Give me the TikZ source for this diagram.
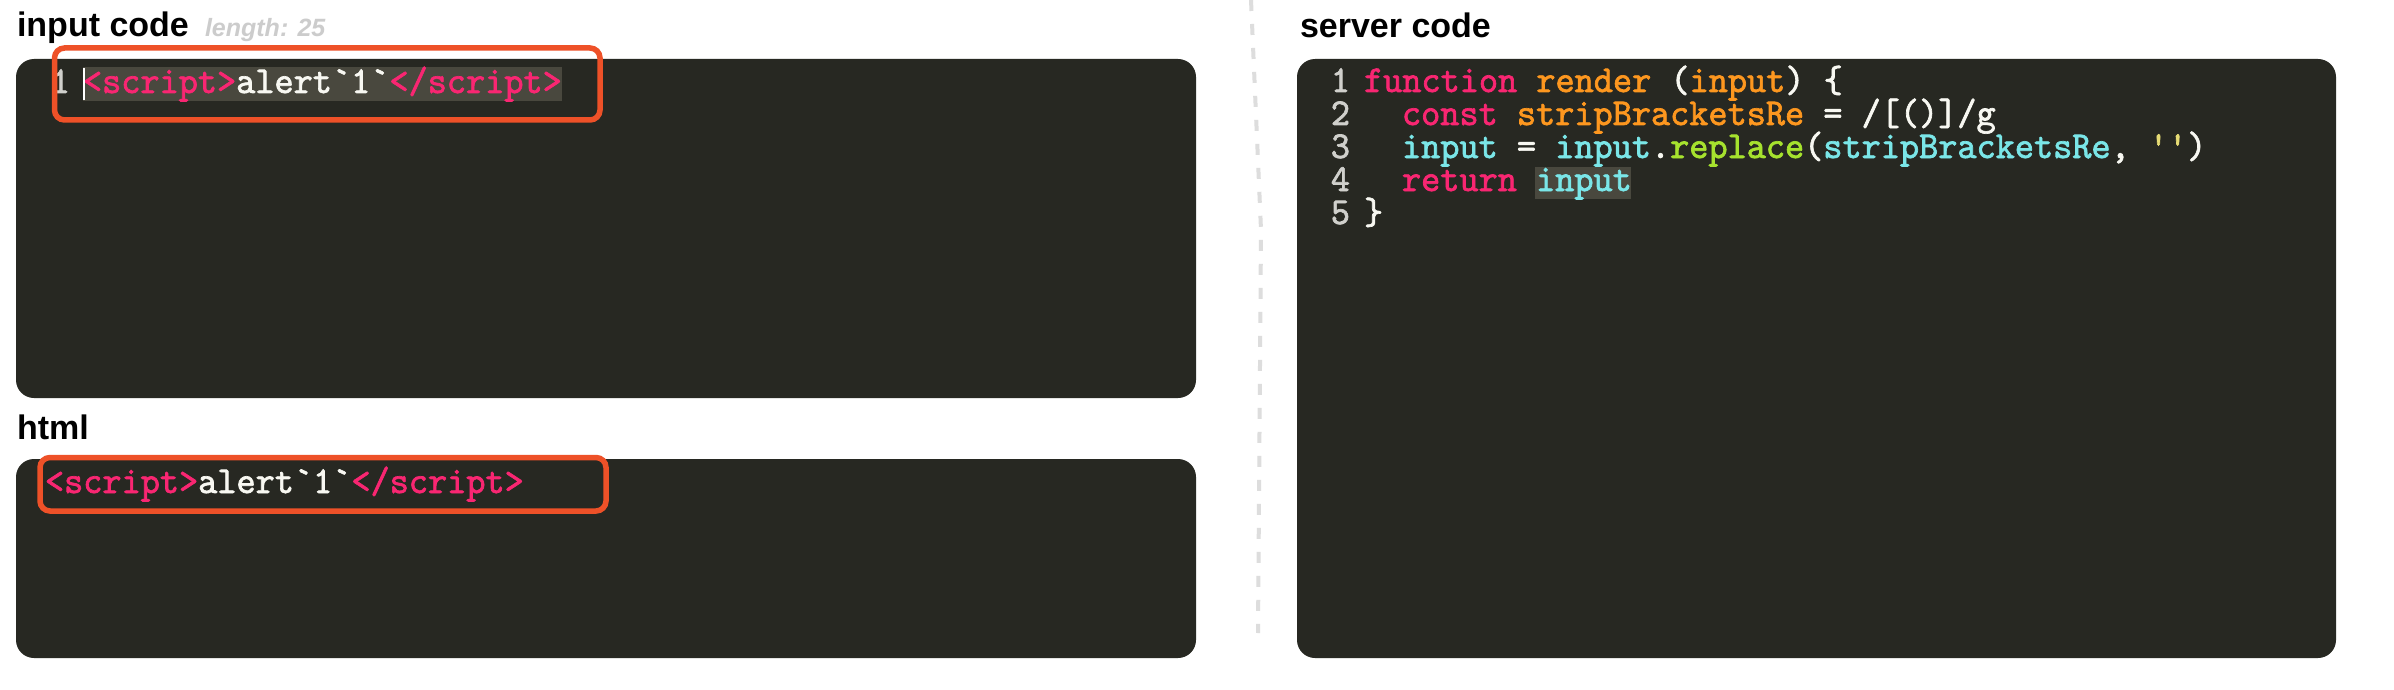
\documentclass[tikz,border=0pt]{standalone}
\usepackage{fontspec}
\setmainfont{Liberation Sans}
\newfontfamily\codefont{lmmono10-regular.otf}[Ligatures=TeXOff, FakeStretch=0.96, FakeBold=1.8]
\definecolor{mkbg}{HTML}{272822}
\definecolor{mksel}{HTML}{49483E}
\definecolor{mkwhite}{HTML}{F8F8F2}
\definecolor{mkpink}{HTML}{F92672}
\definecolor{mkorange}{HTML}{FD971F}
\definecolor{mkcyan}{HTML}{7AE6E8}
\definecolor{mkgreen}{HTML}{A6E22E}
\definecolor{mkyellow}{HTML}{E6DB74}
\definecolor{mkgutter}{HTML}{D0D0CC}
\definecolor{boxred}{HTML}{EE5128}
\definecolor{lengray}{HTML}{CCCCCC}
\definecolor{dashgray}{HTML}{DDDDDD}
\tikzset{
  panel/.style={fill=mkbg, rounded corners=18},
  selbg/.style={fill=mksel},
  redbox/.style={draw=boxred, line width=5.5, rounded corners=10},
  codetxt/.style={anchor=base west, inner sep=0, outer sep=0, text=mkwhite,
    text height=23, text depth=7,
    font=\codefont\fontsize{38}{38}\selectfont},
  lnum/.style={anchor=base east, inner sep=0, outer sep=0, text=mkgutter,
    text height=23, text depth=7,
    font=\codefont\fontsize{38}{38}\selectfont},
  titletxt/.style={anchor=base west, inner sep=0, outer sep=0, text=black,
    font=\bfseries\fontsize{34}{34}\selectfont},
  lentxt/.style={anchor=base west, inner sep=0, outer sep=0, text=lengray,
    font=\bfseries\itshape\fontsize{25}{25}\selectfont},
  divider/.style={draw=dashgray, line width=4, dash pattern=on 11 off 13},
}
\begin{document}
\begin{tikzpicture}[x=1pt,y=-1pt]
\useasboundingbox (0,0) rectangle (2394,690);
\fill[white] (0,0) rectangle (2394,690);

% titles
\node[titletxt] (t1) at (17,37) {input code};
\node[lentxt] (len) at (205,37) {length: 25};
\node[titletxt] (t2) at (17,439) {html};
\node[titletxt] (t3) at (1300,38) {server code};

% divider
\coordinate (d0) at (1251,0);
\coordinate (d1) at (1261,230);
\coordinate (d2) at (1258,633);
\draw[divider] (d0) -- (d1) -- (d2);

% panels
\fill[panel] (16,59) rectangle (1196,398);
\fill[panel] (16,459) rectangle (1196,658);
\fill[panel] (1297,59) rectangle (2336,658);

% input code panel
\fill[selbg] (83,67) rectangle (562,101);
\node[lnum] (in1n) at (70,93) {1};
\node[codetxt] (in1) at (83,93) {\textcolor{mkpink}{<script>}alert`1`\textcolor{mkpink}{</script>}};
\coordinate (cur0) at (83.5,68);
\coordinate (cur1) at (83.5,100);
\draw[white, line width=2] (cur0) -- (cur1);

% html panel
\node[codetxt] (ht1) at (45,493) {\textcolor{mkpink}{<script>}alert`1`\textcolor{mkpink}{</script>}};

% server code panel
\fill[selbg] (1535,167) rectangle (1631,199);
\node[lnum] (s1n) at (1350,92) {1};
\node[lnum] (s2n) at (1350,125) {2};
\node[lnum] (s3n) at (1350,158) {3};
\node[lnum] (s4n) at (1350,191) {4};
\node[lnum] (s5n) at (1350,224) {5};
\node[codetxt] (s1) at (1364,92) {\textcolor{mkpink}{function} \textcolor{mkorange}{render} (\textcolor{mkorange}{input}) \{};
\node[codetxt] (s2) at (1402,125) {\textcolor{mkpink}{const} \textcolor{mkorange}{stripBracketsRe} = /[()]/g};
\node[codetxt] (s3) at (1402,158) {\textcolor{mkcyan}{input} = \textcolor{mkcyan}{input}.\textcolor{mkgreen}{replace}(\textcolor{mkcyan}{stripBracketsRe}, \textcolor{mkyellow}{''})};
\node[codetxt] (s4) at (1402,191) {\textcolor{mkpink}{return} \textcolor{mkcyan}{input}};
\node[codetxt] (s5) at (1364,224) {\}};

% highlight boxes
\draw[redbox] (54.5,48) rectangle (600,120);
\draw[redbox] (40,457.5) rectangle (606,511);
\end{tikzpicture}
\end{document}
